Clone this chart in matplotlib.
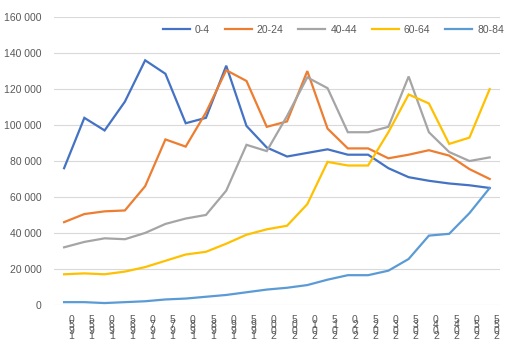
import matplotlib.pyplot as plt
from matplotlib.ticker import FuncFormatter

plt.rcParams['font.family'] = ['Liberation Sans', 'DejaVu Sans']

years = list(range(1950, 2060, 5))
series_names = ['0-4', '20-24', '40-44', '60-64', '80-84']
colors = ['#4472C4', '#ED7D31', '#A5A5A5', '#FFC000', '#5B9BD5']

# thousands of people
age_0_4 = [76, 104, 97, 113, 136, 128.5, 101, 104, 133, 99.5, 87.5, 82.5,
           84.5, 86.5, 83.5, 83.5, 76, 71, 69, 67.5, 66.5, 65]
age_20_24 = [46, 50.5, 52, 52.5, 66, 92, 88, 107, 130.5, 124.5, 99, 102,
             130, 98, 87, 87, 81.5, 83.5, 86, 83, 75.5, 70]
age_40_44 = [32, 35, 37, 36.5, 40, 45, 48, 50, 63.5, 89, 85.5, 105,
             126.5, 120.5, 96, 96, 99, 127, 96, 85, 80, 82]
age_60_64 = [17, 17.5, 17, 18.5, 21, 24.5, 28, 29.5, 34, 39, 42, 44,
             56, 79.5, 77.5, 77.5, 96, 117, 112, 89.5, 93, 120]
age_80_84 = [1.5, 1.5, 1, 1.5, 2, 3, 3.5, 4.5, 5.5, 7, 8.5, 9.5,
             11, 14, 16.5, 16.5, 19, 25.5, 38.5, 39.5, 51, 65]

data = [age_0_4, age_20_24, age_40_44, age_60_64, age_80_84]

fig = plt.figure(figsize=(5.09, 3.5), dpi=100)
ax = fig.add_axes([0.106, 0.129, 0.876, 0.822])

x = list(range(len(years)))
for name, vals, c in zip(series_names, data, colors):
    ax.plot(x, [v * 1000 for v in vals], color=c, linewidth=1.6, label=name,
            solid_joinstyle='miter')

ax.set_xlim(-0.5, len(years) - 0.5)
ax.set_ylim(0, 160000)
ax.set_yticks(range(0, 160001, 20000))
ax.yaxis.set_major_formatter(FuncFormatter(lambda v, p: f'{int(v):,}'.replace(',', ' ')))
ax.grid(axis='y', color='#D9D9D9', linewidth=0.8)
ax.set_axisbelow(True)
for s in ax.spines.values():
    s.set_visible(False)
ax.tick_params(axis='both', length=0, labelsize=7.5, labelcolor='#595959')
ax.tick_params(axis='y', pad=9)

# stacked year labels (characters bottom-to-top, overlapping), sitting a bit right of each point
ax.set_xticks([i + 0.35 for i in x])
ax.set_xticklabels(['\n'.join(str(y)[::-1]) for y in years], linespacing=0.45,
                   fontsize=7.5, va='top')
ax.tick_params(axis='x', pad=7)

ax.legend(loc='center', bbox_to_anchor=(0.655, 0.914), bbox_transform=fig.transFigure,
          ncol=5, frameon=False, fontsize=7.5, handlelength=2.6, handletextpad=0.5,
          columnspacing=1.4, labelcolor='#595959')

fig.savefig('out.png', dpi=100)
